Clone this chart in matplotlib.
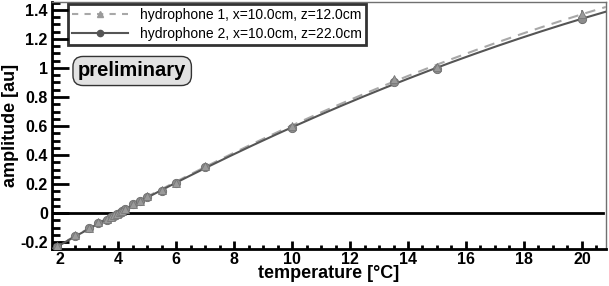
import numpy as np
import matplotlib
matplotlib.use("Agg")
import matplotlib.pyplot as plt
from matplotlib.ticker import MultipleLocator, FuncFormatter
from matplotlib.lines import Line2D

plt.rcParams['font.family'] = ['Liberation Sans', 'DejaVu Sans']

# hydrophone 1 (triangles)
temp1 = [1.9, 2.5, 3.0, 3.3, 3.6, 3.75, 3.85, 3.95, 4.05, 4.15, 4.25, 4.5, 4.75, 5.0, 5.5, 6.0, 7.0, 10.0, 13.5, 15.0, 20.0]
amp1 = [-0.23, -0.15, -0.10, -0.065, -0.04, -0.025, -0.015, -0.005, 0.005, 0.015, 0.03, 0.065, 0.085, 0.115, 0.16, 0.21, 0.325, 0.6, 0.925, 1.01, 1.37]
err1 = [0.01, 0.01, 0.01, 0.01, 0.01, 0.01, 0.01, 0.01, 0.01, 0.01, 0.01, 0.01, 0.01, 0.01, 0.01, 0.01, 0.01, 0.01, 0.015, 0.015, 0.03]
# hydrophone 2 (circles)
temp2 = [1.9, 2.5, 3.0, 3.3, 3.6, 3.75, 3.85, 3.95, 4.05, 4.15, 4.25, 4.5, 4.75, 5.0, 5.5, 6.0, 7.0, 10.0, 13.5, 15.0, 20.0]
amp2 = [-0.235, -0.155, -0.10, -0.07, -0.045, -0.03, -0.02, -0.01, 0.0, 0.012, 0.025, 0.06, 0.08, 0.11, 0.155, 0.205, 0.32, 0.583, 0.905, 0.99, 1.34]
err2 = [0.01, 0.01, 0.01, 0.01, 0.01, 0.01, 0.01, 0.01, 0.01, 0.01, 0.01, 0.01, 0.01, 0.01, 0.01, 0.01, 0.01, 0.01, 0.015, 0.015, 0.04]

labels = ["hydrophone 1, x=10.0cm, z=12.0cm", "hydrophone 2, x=10.0cm, z=22.0cm"]

fig = plt.figure(figsize=(6.09, 2.86), dpi=100)
ax = fig.add_axes([52/609, 1-249/286, (606-52)/609, (249-2)/286])
xmin, xmax, ymin, ymax = 1.72, 20.83, -0.248, 1.455
ax.set_xlim(xmin, xmax)
ax.set_ylim(ymin, ymax)

c1_line = '#a8a8a8'
c2_line = '#555555'
mk_face = '#8c8c8c'

xs = np.linspace(xmin, xmax, 300)
p1 = np.polyfit(temp1, amp1, 2)
p2 = np.polyfit(temp2, amp2, 2)
ax.plot(xs, np.polyval(p1, xs), color=c1_line, lw=1.5, ls=(0, (5, 3.5)), zorder=3)
ax.plot(xs, np.polyval(p2, xs), color=c2_line, lw=1.5, zorder=3)

ax.errorbar(temp2, amp2, yerr=err2, fmt='o', ms=6, mfc=mk_face, mec='#6a6a6a', mew=0.6,
            ecolor='#555555', elinewidth=1.2, capsize=0, zorder=4)
ax.errorbar(temp1, amp1, yerr=err1, fmt='^', ms=6, mfc='#9a9a9a', mec='#777777', mew=0.6,
            ecolor='#777777', elinewidth=1.2, capsize=0, zorder=5)

ax.axhline(0, color='black', lw=2, zorder=2, xmax=0.995)

for s in ['left', 'bottom']:
    ax.spines[s].set_linewidth(2)
    ax.spines[s].set_color('black')
for s in ['top', 'right']:
    ax.spines[s].set_linewidth(1)
    ax.spines[s].set_color('#707070')

ax.xaxis.set_major_locator(MultipleLocator(2))
ax.xaxis.set_minor_locator(MultipleLocator(0.5))
ax.yaxis.set_major_locator(MultipleLocator(0.2))
ax.yaxis.set_minor_locator(MultipleLocator(0.05))
ax.yaxis.set_major_formatter(FuncFormatter(lambda v, p: f"{v:g}" if abs(v) > 1e-9 else "0"))
ax.xaxis.set_major_formatter(FuncFormatter(lambda v, p: f"{v:g}"))

ax.tick_params(axis='y', which='major', direction='in', length=12, width=2, right=False, labelsize=11.5, pad=3)
ax.tick_params(axis='y', which='minor', direction='in', length=6, width=2, right=False)
ax.tick_params(axis='x', which='major', direction='in', length=6, width=2, top=False, labelsize=11.5, pad=2)
ax.tick_params(axis='x', which='minor', direction='in', length=3, width=2, top=False)
for lab in ax.get_xticklabels() + ax.get_yticklabels():
    lab.set_fontweight('bold')

ax.set_xlabel("temperature [°C]", fontsize=13, fontweight='bold', labelpad=-1)
ax.set_ylabel("amplitude [au]", fontsize=13, fontweight='bold', labelpad=1)

handles = [
    Line2D([], [], color=c1_line, ls=(0, (3, 3)), lw=1.5, marker='^', ms=5, mfc='#9a9a9a', mec='#9a9a9a'),
    Line2D([], [], color=c2_line, lw=1.5, marker='o', ms=4.5, mfc=c2_line, mec=c2_line),
]
leg = ax.legend(handles, labels, loc='upper left', bbox_to_anchor=((68-52)/554, 1 - 2/247),
                fontsize=10, frameon=True, fancybox=False, edgecolor='black',
                handlelength=4.0, handletextpad=0.9, borderpad=0.3, labelspacing=0.35,
                borderaxespad=0)
leg.get_frame().set_linewidth(2)

ax.text((78-52)/554, (249-71)/247, "preliminary", transform=ax.transAxes, fontsize=14.5, fontweight='bold',
        ha='left', va='center',
        bbox=dict(boxstyle='round,pad=0.25,rounding_size=0.5', fc='#e2e2e2', ec='#333333', lw=1))

fig.savefig("out.png", dpi=100)
